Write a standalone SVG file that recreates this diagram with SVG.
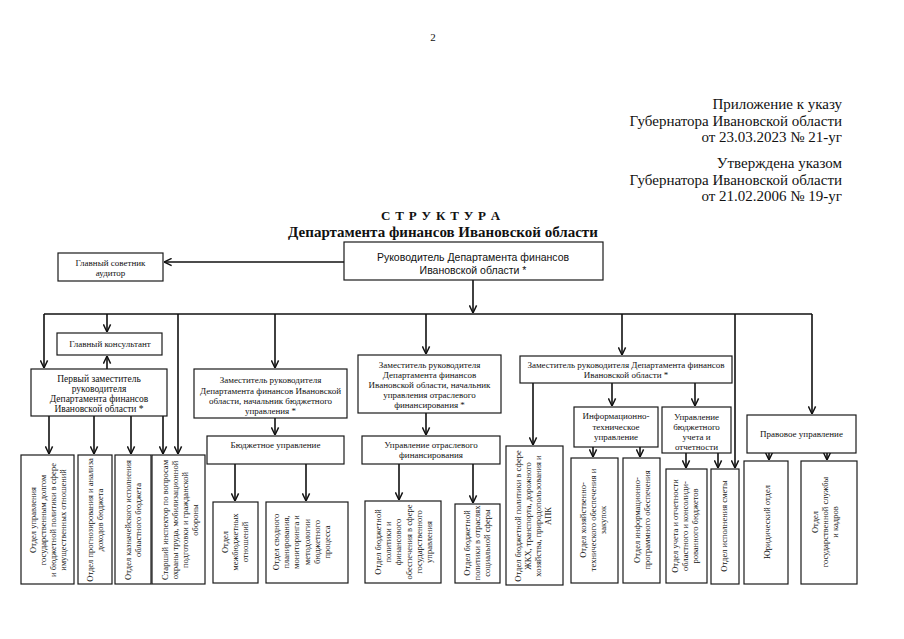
<svg xmlns="http://www.w3.org/2000/svg" width="904" height="639" viewBox="0 0 904 639">
<style>
.bg{fill:#fff}
.box{fill:#fff;stroke:#1a1a1a;stroke-width:1.2}
.t{font-family:"Liberation Serif","Times New Roman",serif;font-size:9px;fill:#111;text-anchor:middle}
.r{font-family:"Liberation Serif","Times New Roman",serif;font-size:8.5px;fill:#111;text-anchor:middle}
.hdr{font-family:"Liberation Serif","Times New Roman",serif;font-size:15px;fill:#111;text-anchor:end}
.ttl{font-family:"Liberation Serif","Times New Roman",serif;font-weight:bold;fill:#111;text-anchor:middle}
.c{stroke:#111;stroke-width:1.6;fill:none}
.ca{stroke:#111;stroke-width:1.6;fill:none;marker-end:url(#ah)}
</style>
<defs>
<marker id="ah" viewBox="0 0 10 10" refX="9.5" refY="5" markerWidth="9" markerHeight="9" markerUnits="userSpaceOnUse" orient="auto">
<path d="M1,1 L9.5,5 L1,9" fill="none" stroke="#111" stroke-width="1.6"/>
</marker>
</defs>
<rect class="bg" x="0" y="0" width="904" height="639"/>

<text x="433" y="41" style="font-family:'Liberation Serif',serif;font-size:11px;fill:#111;text-anchor:middle">2</text>

<g id="header">
<text class="hdr" x="842" y="109">Приложение к указу</text>
<text class="hdr" x="842" y="126">Губернатора Ивановской области</text>
<text class="hdr" x="842" y="142">от 23.03.2023 № 21-уг</text>
<text class="hdr" x="842" y="168">Утверждена указом</text>
<text class="hdr" x="842" y="185">Губернатора Ивановской области</text>
<text class="hdr" x="842" y="201">от 21.02.2006 № 19-уг</text>
</g>

<g id="title">
<text class="ttl" x="441" y="220" style="font-size:13px;letter-spacing:0.8px">С Т Р У К Т У Р А</text>
<text class="ttl" x="443" y="237" style="font-size:15px">Департамента финансов Ивановской области</text>
</g>

<g id="connectors">
<path class="ca" d="M344,262 H164"/>
<path class="ca" d="M473,280 V313"/>
<path class="c" d="M44,314 H812"/>
<path class="ca" d="M44,314 V368"/>
<path class="ca" d="M107,314 V332"/>
<path class="ca" d="M178,314 V454"/>
<path class="ca" d="M275,314 V368"/>
<path class="ca" d="M426,314 V354"/>
<path class="ca" d="M622,314 V355"/>
<path class="ca" d="M735,314 V468"/>
<path class="ca" d="M812,314 V414"/>
<path class="ca" d="M107,369 V356"/>
<path class="ca" d="M49,416 V454"/>
<path class="ca" d="M94,416 V454"/>
<path class="ca" d="M131,416 V454"/>
<path class="ca" d="M163,416 V454"/>
<path class="ca" d="M275,418 V435"/>
<path class="ca" d="M235,464 V501"/>
<path class="ca" d="M306,464 V501"/>
<path class="ca" d="M426,413 V435"/>
<path class="ca" d="M399,464 V500"/>
<path class="ca" d="M473,464 V503"/>
<path class="ca" d="M533,383 V445"/>
<path class="ca" d="M612,383 V406"/>
<path class="ca" d="M695,383 V406"/>
<path class="ca" d="M593,447 V457"/>
<path class="ca" d="M640,447 V457"/>
<path class="ca" d="M686,453 V468"/>
<path class="ca" d="M718,453 V468"/>
<path class="ca" d="M769,453 V460"/>
<path class="ca" d="M827,453 V460"/>
</g>

<g id="auditor">
<rect class="box" x="58" y="253" width="105" height="28"/>
<text class="t" x="110.5" y="265.5">Главный советник</text>
<text class="t" x="110.5" y="276">аудитор</text>
</g>

<g id="head">
<rect class="box" x="344" y="242" width="259" height="38"/>
<text x="473" y="261" style="font-family:'Liberation Sans',sans-serif;font-size:10.5px;fill:#111;text-anchor:middle">Руководитель Департамента финансов</text>
<text x="473" y="274" style="font-family:'Liberation Sans',sans-serif;font-size:10.5px;fill:#111;text-anchor:middle">Ивановской области *</text>
</g>

<g id="chief-consultant">
<rect class="box" x="57" y="333" width="105" height="22"/>
<text class="t" x="110" y="347">Главный консультант</text>
</g>

<g id="first-deputy">
<rect class="box" x="31" y="369" width="136" height="47"/>
<text class="t" x="99" y="382" style="font-size:9.5px">Первый заместитель</text>
<text class="t" x="99" y="392" style="font-size:9.5px">руководителя</text>
<text class="t" x="99" y="402" style="font-size:9.5px">Департамента финансов</text>
<text class="t" x="99" y="412" style="font-size:9.5px">Ивановской области *</text>
</g>

<g id="deputy-budget">
<rect class="box" x="194" y="369" width="153" height="49"/>
<text class="t" x="270.5" y="383">Заместитель руководителя</text>
<text class="t" x="270.5" y="394">Департамента финансов Ивановской</text>
<text class="t" x="270.5" y="404">области, начальник бюджетного</text>
<text class="t" x="270.5" y="414">управления *</text>
</g>

<g id="deputy-sector">
<rect class="box" x="358" y="355" width="143" height="58"/>
<text class="t" x="429.5" y="368">Заместитель руководителя</text>
<text class="t" x="429.5" y="378">Департамента финансов</text>
<text class="t" x="429.5" y="388">Ивановской области, начальник</text>
<text class="t" x="429.5" y="398">управления отраслевого</text>
<text class="t" x="429.5" y="408">финансирования *</text>
</g>

<g id="deputy-3">
<rect class="box" x="520" y="356" width="212" height="27"/>
<text class="t" x="626" y="368">Заместитель руководителя Департамента финансов</text>
<text class="t" x="626" y="378">Ивановской области *</text>
</g>

<g id="budget-dept">
<rect class="box" x="207" y="436" width="137" height="28"/>
<text class="t" x="275.5" y="448">Бюджетное управление</text>
</g>

<g id="sector-dept">
<rect class="box" x="362" y="436" width="138" height="28"/>
<text class="t" x="431" y="448">Управление отраслевого</text>
<text class="t" x="431" y="458">финансирования</text>
</g>

<g id="it-dept">
<rect class="box" x="574" y="407" width="84" height="40"/>
<text class="t" x="616" y="419">Информационно-</text>
<text class="t" x="616" y="430">техническое</text>
<text class="t" x="616" y="440">управление</text>
</g>

<g id="accounting-dept">
<rect class="box" x="662" y="407" width="69" height="46"/>
<text class="t" x="696.5" y="420">Управление</text>
<text class="t" x="696.5" y="430">бюджетного</text>
<text class="t" x="696.5" y="440">учета и</text>
<text class="t" x="696.5" y="450">отчетности</text>
</g>

<g id="legal-dept">
<rect class="box" x="747" y="415" width="109" height="38"/>
<text class="t" x="801.5" y="437">Правовое управление</text>
</g>

<g id="d1">
<rect class="box" x="21" y="455" width="53" height="129"/>
<text class="r" transform="translate(36,520) rotate(-90)"><tspan x="0" dy="0">Отдел управления</tspan><tspan x="0" dy="10">государственным долгом</tspan><tspan x="0" dy="10">и бюджетной политики в сфере</tspan><tspan x="0" dy="10">имущественных отношений</tspan></text>
</g>
<g id="d2">
<rect class="box" x="78" y="455" width="34" height="129"/>
<text class="r" transform="translate(93,520) rotate(-90)"><tspan x="0" dy="0">Отдел прогнозирования и анализа</tspan><tspan x="0" dy="10">доходов бюджета</tspan></text>
</g>
<g id="d3">
<rect class="box" x="115" y="455" width="36" height="129"/>
<text class="r" transform="translate(131,520) rotate(-90)"><tspan x="0" dy="0">Отдел казначейского исполнения</tspan><tspan x="0" dy="10">областного бюджета</tspan></text>
</g>
<g id="d4">
<rect class="box" x="152" y="455" width="53" height="129"/>
<text class="r" transform="translate(168,520) rotate(-90)"><tspan x="0" dy="0">Старший инспектор по вопросам</tspan><tspan x="0" dy="10">охраны труда, мобилизационной</tspan><tspan x="0" dy="10">подготовки и гражданской</tspan><tspan x="0" dy="10">обороны</tspan></text>
</g>
<g id="d5">
<rect class="box" x="213" y="502" width="45" height="81"/>
<text class="r" transform="translate(228,542) rotate(-90)"><tspan x="0" dy="0">Отдел</tspan><tspan x="0" dy="10">межбюджетных</tspan><tspan x="0" dy="10">отношений</tspan></text>
</g>
<g id="d6">
<rect class="box" x="266" y="502" width="82" height="81"/>
<text class="r" transform="translate(279,542) rotate(-90)"><tspan x="0" dy="0">Отдел сводного</tspan><tspan x="0" dy="10.2">планирования,</tspan><tspan x="0" dy="10.2">мониторинга и</tspan><tspan x="0" dy="10.2">методологии</tspan><tspan x="0" dy="10.2">бюджетного</tspan><tspan x="0" dy="10.2">процесса</tspan></text>
</g>
<g id="d7">
<rect class="box" x="365" y="501" width="76" height="82"/>
<text class="r" transform="translate(381,542) rotate(-90)"><tspan x="0" dy="0">Отдел бюджетной</tspan><tspan x="0" dy="10.2">политики и</tspan><tspan x="0" dy="10.2">финансового</tspan><tspan x="0" dy="10.2">обеспечения в сфере</tspan><tspan x="0" dy="10.2">государственного</tspan><tspan x="0" dy="10.2">управления</tspan></text>
</g>
<g id="d8">
<rect class="box" x="455" y="504" width="45" height="79"/>
<text class="r" transform="translate(470,543) rotate(-90)"><tspan x="0" dy="0">Отдел бюджетной</tspan><tspan x="0" dy="10">политики в отраслях</tspan><tspan x="0" dy="10">социальной сферы</tspan></text>
</g>
<g id="d9">
<rect class="box" x="506" y="446" width="57" height="139"/>
<text class="r" transform="translate(521,516) rotate(-90)"><tspan x="0" dy="0">Отдел бюджетной политики в сфере</tspan><tspan x="0" dy="10">ЖКХ, транспорта, дорожного</tspan><tspan x="0" dy="10">хозяйства, природопользования и</tspan><tspan x="0" dy="10">АПК</tspan></text>
</g>
<g id="d10">
<rect class="box" x="571" y="458" width="47" height="125"/>
<text class="r" transform="translate(586,520) rotate(-90)"><tspan x="0" dy="0">Отдел хозяйственно-</tspan><tspan x="0" dy="10">технического обеспечения и</tspan><tspan x="0" dy="10">закупок</tspan></text>
</g>
<g id="d11">
<rect class="box" x="623" y="458" width="37" height="125"/>
<text class="r" transform="translate(640,520) rotate(-90)"><tspan x="0" dy="0">Отдел информационно-</tspan><tspan x="0" dy="10">программного обеспечения</tspan></text>
</g>
<g id="d12">
<rect class="box" x="666" y="469" width="41" height="114"/>
<text class="r" transform="translate(678,526) rotate(-90)"><tspan x="0" dy="0">Отдел учета и отчетности</tspan><tspan x="0" dy="10">областного и консолиди-</tspan><tspan x="0" dy="10">рованного бюджетов</tspan></text>
</g>
<g id="d13">
<rect class="box" x="711" y="469" width="28" height="115"/>
<text class="r" transform="translate(727,526) rotate(-90)">Отдел исполнения сметы</text>
</g>
<g id="d14">
<rect class="box" x="744" y="461" width="44" height="123"/>
<text class="r" transform="translate(770,522) rotate(-90)">Юридический отдел</text>
</g>
<g id="d15">
<rect class="box" x="801" y="461" width="56" height="123"/>
<text class="r" transform="translate(818,522) rotate(-90)"><tspan x="0" dy="0">Отдел</tspan><tspan x="0" dy="10">государственной службы</tspan><tspan x="0" dy="10">и кадров</tspan></text>
</g>
</svg>
